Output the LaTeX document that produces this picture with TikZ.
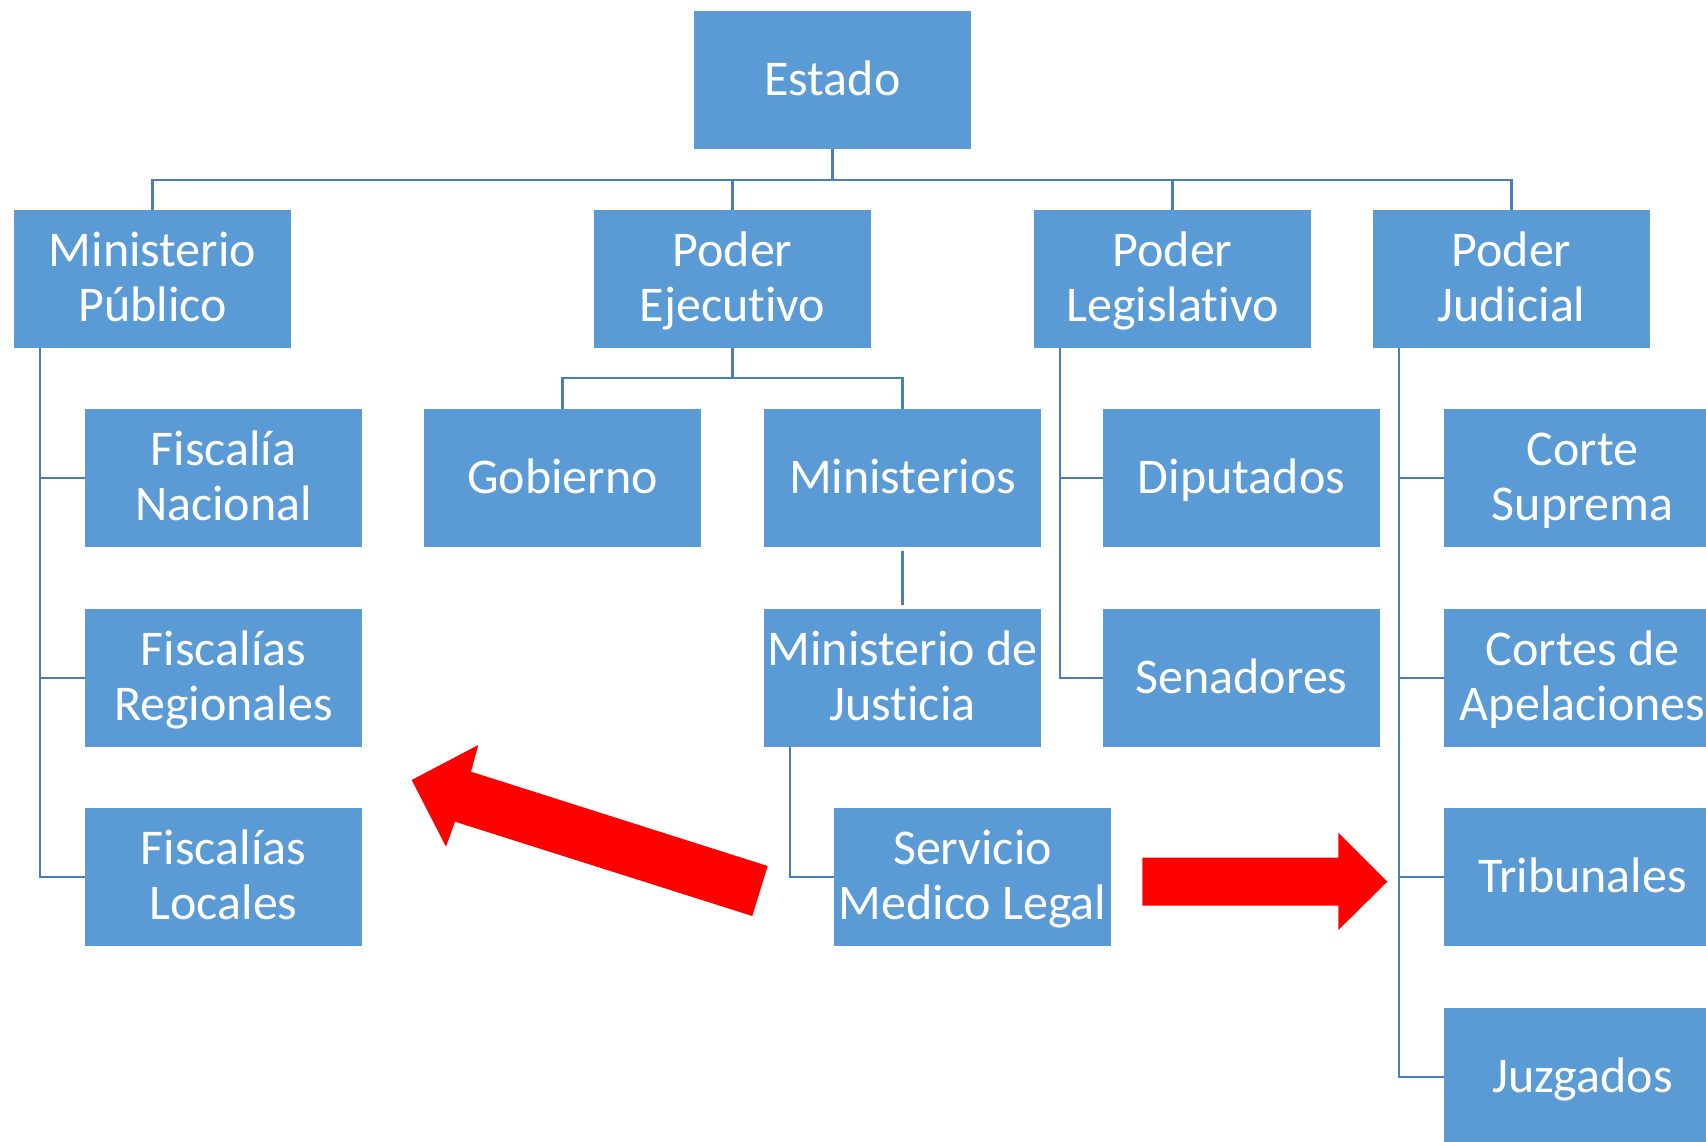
\documentclass[tikz,border=0pt]{standalone}
\usepackage{fontspec}
\setmainfont{Carlito}[Ligatures=NoCommon]
\definecolor{boxblue}{HTML}{5B9BD5}
\definecolor{lineblue}{HTML}{4A7EBB}
\definecolor{arrowred}{HTML}{FF0000}
\newcommand\lnstrut{\rule[-12.5pt]{0pt}{55pt}}
\begin{document}
\begin{tikzpicture}[x=1pt,y=-1pt,
  box/.style={fill=boxblue, draw=none, minimum width=277pt, minimum height=138pt, inner sep=0pt,
    text=white, align=center, font=\fontsize{50}{55}\selectfont},
  conn/.style={draw=lineblue, line width=2.2pt},
  bigarrow/.style={fill=arrowred, draw=none}]
\clip (0,0) rectangle (1706,1141);
\fill[white] (0,0) rectangle (1706,1141);
% nodes
\node[box] (estado) at (832.5,80) {\lnstrut Estado};
\node[box] (mp) at (152.5,279) {\lnstrut Ministerio\\\lnstrut Público};
\node[box] (pe) at (732.5,279) {\lnstrut Poder\\\lnstrut Ejecutivo};
\node[box] (pl) at (1172.5,279) {\lnstrut Poder\\\lnstrut Legislativo};
\node[box] (pj) at (1511.5,279) {\lnstrut Poder\\\lnstrut Judicial};
\node[box] (fn) at (223.5,478) {\lnstrut Fiscalía\\\lnstrut Nacional};
\node[box] (fr) at (223.5,678) {\lnstrut Fiscalías\\\lnstrut Regionales};
\node[box] (fl) at (223.5,877) {\lnstrut Fiscalías\\\lnstrut Locales};
\node[box] (gob) at (562.5,478) {\lnstrut Gobierno};
\node[box] (min) at (902.5,478) {\lnstrut Ministerios};
\node[box] (mdj) at (902.5,678) {\lnstrut Ministerio de\\\lnstrut Justicia};
\node[box] (sml) at (972.5,877) {\lnstrut Servicio\\\lnstrut Medico Legal};
\node[box] (dip) at (1241.5,478) {\lnstrut Diputados};
\node[box] (sen) at (1241.5,678) {\lnstrut Senadores};
\node[box] (cs) at (1582.5,478) {\lnstrut Corte\\\lnstrut Suprema};
\node[box] (ca) at (1582.5,678) {\lnstrut Cortes de\\\lnstrut Apelaciones};
\node[box] (tri) at (1582.5,877) {\lnstrut Tribunales};
\node[box] (juz) at (1582.5,1077) {\lnstrut Juzgados};
% top bus
\coordinate (busY) at (0,180);
\draw[conn] (estado.south) -- (estado |- busY);
\draw[conn] (mp.north) -- (mp |- busY) -- (pj |- busY) -- (pj.north);
\draw[conn] (pe.north) -- (pe |- busY);
\draw[conn] (pl.north) -- (pl |- busY);
% Ministerio Publico
\coordinate (mpv) at ([xshift=26pt]mp.south west);
\draw[conn] (mpv) -- (mpv |- fl.west) -- (fl.west);
\draw[conn] (mpv |- fn.west) -- (fn.west);
\draw[conn] (mpv |- fr.west) -- (fr.west);
% Poder Ejecutivo
\draw[conn] (pe.south) -- ++(0,30) coordinate (pebus);
\draw[conn] (gob.north) -- (gob |- pebus) -- (min |- pebus) -- (min.north);
\draw[conn, shorten >=4pt, shorten <=4pt] (min.south) -- (mdj.north);
\coordinate (mdjv) at ([xshift=26pt]mdj.south west);
\draw[conn] (mdjv) -- (mdjv |- sml.west) -- (sml.west);
% Poder Legislativo
\coordinate (plv) at ([xshift=26pt]pl.south west);
\draw[conn] (plv) -- (plv |- sen.west) -- (sen.west);
\draw[conn] (plv |- dip.west) -- (dip.west);
% Poder Judicial
\coordinate (pjv) at ([xshift=26pt]pj.south west);
\draw[conn] (pjv) -- (pjv |- juz.west) -- (juz.west);
\draw[conn] (pjv |- cs.west) -- (cs.west);
\draw[conn] (pjv |- ca.west) -- (ca.west);
\draw[conn] (pjv |- tri.west) -- (tri.west);
% red block arrows
\fill[bigarrow] (411.7,780) -- (478.3,745) -- (471,771.7) -- (767.7,866) -- (752.3,916)
  -- (455,821.7) -- (446,846.7) -- cycle;
\fill[bigarrow] (1142.3,857.7) -- (1338.3,857.7) -- (1338.3,832.7) -- (1387.3,881.7)
  -- (1338.3,930) -- (1338.3,905.7) -- (1142.3,905.7) -- cycle;
\end{tikzpicture}
\end{document}
